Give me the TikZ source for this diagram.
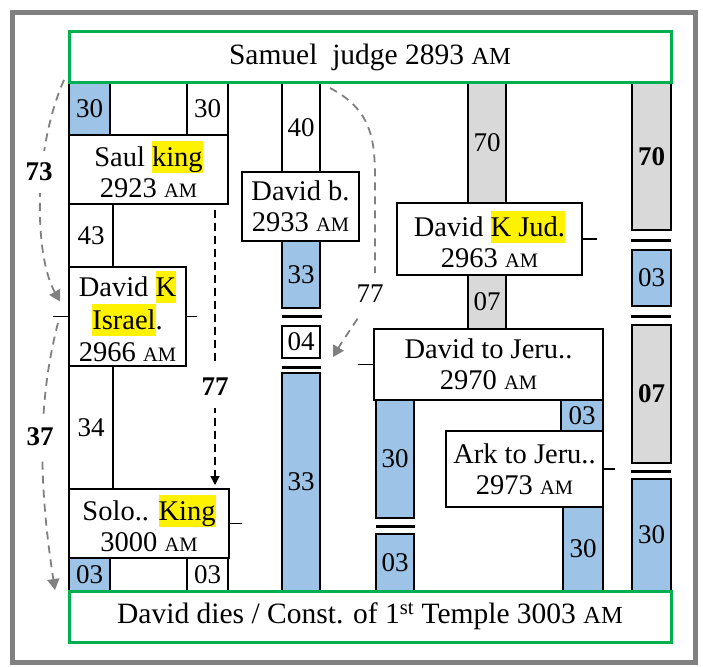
\documentclass[tikz,border=0pt]{standalone}
\usepackage{fontspec}
\setmainfont{Liberation Serif}
\usetikzlibrary{arrows.meta,calc}
\definecolor{framegray}{RGB}{128,128,128}
\definecolor{bgreen}{RGB}{0,176,80}
\definecolor{bblue}{RGB}{157,195,230}
\definecolor{bgray}{RGB}{217,217,217}
\definecolor{dgray}{RGB}{128,128,128}
\newcommand{\bodyfont}{\fontsize{28.5}{31}\selectfont}
\newcommand{\israelfont}{\fontsize{28.5}{32.5}\selectfont}
\newcommand{\numfont}{\fontsize{27}{30}\selectfont}
\newcommand{\bannerfont}{\fontsize{29.5}{32}\selectfont}
\newcommand{\AM}{{\fontsize{20.5}{20.5}\selectfont AM}}
\newcommand{\AMb}{{\fontsize{24.5}{24.5}\selectfont AM}}
\newcommand{\hl}[1]{{\setlength{\fboxsep}{0pt}\colorbox{yellow}{\rule[-6.5pt]{0pt}{32pt}#1}}}
\newcommand{\mybox}[7]{\node[#2, minimum width={#5-#3}, minimum height={#6-#4}] (#1) at ({(#3+#5)/2},{(#4+#6)/2}) {#7};}
\tikzset{
  every node/.style={inner sep=0pt, outer sep=0pt},
  seg/.style={draw=black, line width=1.2pt, font=\numfont},
  blu/.style={seg, fill=bblue},
  gry/.style={seg, fill=bgray},
  wht/.style={seg, fill=white},
  ev/.style={draw=black, line width=1.2pt, fill=white, align=center, font=\bodyfont},
  banner/.style={draw=bgreen, line width=3pt, fill=white, font=\bannerfont},
  sepbar/.style={line width=3pt},
  tick/.style={line width=1.2pt},
  gdash/.style={draw=dgray, line width=1.8pt, dash pattern=on 8pt off 6pt, -{Triangle[width=12pt,length=11pt]}},
  bdash/.style={draw=black, line width=1.3pt, dash pattern=on 8pt off 5pt, -{Triangle[width=9pt,length=9pt]}},
  lbl/.style={fill=white, font=\numfont\bfseries, inner xsep=3pt, inner ysep=12pt},
}
\begin{document}
\begin{tikzpicture}[x=1pt,y=-1pt]
\useasboundingbox (0,0) rectangle (703,666);
\draw[framegray, line width=5pt] (12.5,12.5) rectangle (695.5,662.5);

% column A
\mybox{a1}{blu}{69}{83}{110}{135}{30}
\mybox{a2}{wht}{187}{83}{228}{135}{30}
\mybox{a3}{wht}{69}{204}{113}{267}{43}
\mybox{a4}{wht}{69}{366}{113}{489}{34}
\mybox{a5}{blu}{69}{558}{110}{591}{03}
\mybox{a6}{wht}{187}{558}{228}{591}{03}
\mybox{saul}{ev}{69}{135}{228}{204}{Saul \hl{king}\\2923 \AM}
\mybox{israel}{ev, font=\israelfont}{69}{267}{186}{366}{David \hl{K}\\\hl{Israel}.\\2966 \AM}
\mybox{solo}{ev}{69}{489}{229}{558}{Solo.. \hl{King}\\3000 \AM}

% column B
\mybox{b1}{wht}{282}{83}{320}{172}{40}
\mybox{davidb}{ev}{242}{172}{359}{241}{David b.\\2933 \AM}
\mybox{b2}{blu}{282}{241}{320}{308}{33}
\draw[sepbar] (282,316) -- (322,316);
\mybox{b3}{wht}{282}{326}{320}{358}{04}
\draw[sepbar] (282,367) -- (321,367);
\mybox{b4}{blu}{282}{373}{320}{591}{33}

% column C
\mybox{c1}{gry}{468}{83}{506}{203}{70}
\mybox{kjud}{ev}{397}{203}{582}{275}{David \hl{K Jud.}\\2963 \AM}
\mybox{c2}{gry}{468}{275}{506}{329}{07}
\mybox{jeru}{ev}{374}{329}{603}{400}{David to Jeru..\\2970 \AM}

% column D
\mybox{d1}{blu}{376}{400}{414}{518}{30}
\draw[sepbar] (376,526) -- (415,526);
\mybox{d2}{blu}{376}{534}{414}{591}{03}

% column E
\mybox{e1}{blu}{561}{400}{603}{431}{03}
\mybox{ark}{ev}{446}{431}{603}{507}{Ark to Jeru..\\2973 \AM}
\mybox{e2}{blu}{563}{507}{603}{591}{30}

% column F
\mybox{f1}{gry, font=\numfont\bfseries}{632}{83}{671}{230}{70}
\draw[sepbar] (631,240) -- (671,240);
\mybox{f2}{blu}{632}{250}{671}{306}{03}
\draw[sepbar] (631,316) -- (671,316);
\mybox{f3}{gry, font=\numfont\bfseries}{632}{325}{671}{463}{07}
\draw[sepbar] (631,471) -- (671,471);
\mybox{f4}{blu}{632}{479}{671}{591}{30}

% ticks
\draw[tick] (israel.west) -- ++(-16,0);
\draw[tick] (israel.east) -- ++(11,0);
\draw[tick] (solo.east) -- ++(13,0);
\draw[tick] (kjud.east) -- ++(15,0);
\draw[tick] (jeru.west) -- ++(-16,0);
\draw[tick] (ark.east) -- ++(12,0);

% banners
\mybox{samuel}{banner}{69}{32}{671}{83}{Samuel\ \ judge 2893 \AMb}
\mybox{dies}{banner}{69}{591}{671}{642}{David dies / Const. of 1\textsuperscript{st} Temple 3003 \AMb}

% black dashed arrow
\coordinate (s77) at ($(saul.south)+(66.5,6)$);
\draw[bdash, shorten >=4pt] (s77) -- node[lbl, pos=0.634] (l77b) {77} (s77 |- solo.north);

% gray dashed curves
\draw[gdash] ($(samuel.south west)+(-5,-3)$) .. controls (33,150) and (34,255) .. ($(israel.west)+(-9,-15)$);
\draw[gdash] ($(israel.west)+(-11,6.5)$) .. controls (38,400) and (38,480) .. ($(dies.north west)+(-14,-1)$);
\draw[gdash] ($(samuel.south)+(-40,5)$) .. controls (372,110) and (375,140) .. (375,180) -- (375,270) .. controls (375,300) and (352,325) .. ($(b3.east)+(13,15)$);
\node[lbl] (l73) at (39,172) {73};
\node[lbl] (l37) at (40,437) {37};
\node[lbl, font=\numfont] (l77a) at (370,294) {77};
\end{tikzpicture}
\end{document}
